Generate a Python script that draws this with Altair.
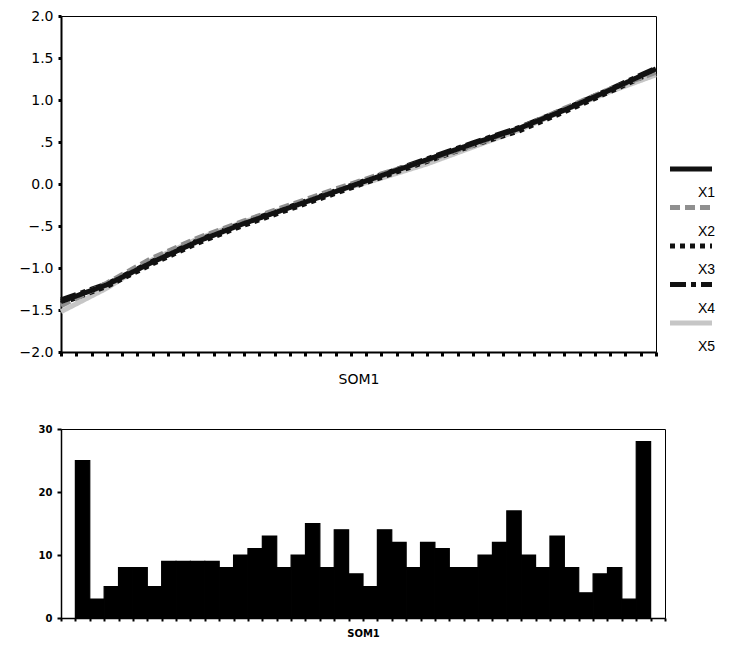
import altair as alt
import pandas as pd

FONT = "Liberation Sans"
WIDE = "DejaVu Sans"

# ---- top panel: five standardised variables along SOM1 ----
som1 = [0, 3, 6, 9, 12, 15, 18, 21, 24, 27, 30, 33, 36, 39]
x1 = [-1.40, -1.20, -0.93, -0.68, -0.47, -0.28, -0.09, 0.10, 0.29, 0.48, 0.66, 0.88, 1.12, 1.37]
x2 = [-1.45, -1.18, -0.88, -0.64, -0.44, -0.25, -0.06, 0.12, 0.28, 0.46, 0.66, 0.90, 1.13, 1.33]
x3 = [-1.42, -1.22, -0.95, -0.70, -0.49, -0.30, -0.11, 0.08, 0.27, 0.46, 0.63, 0.86, 1.10, 1.35]
x4 = [-1.38, -1.19, -0.92, -0.67, -0.46, -0.27, -0.08, 0.11, 0.30, 0.49, 0.67, 0.89, 1.13, 1.38]
x5 = [-1.52, -1.24, -0.90, -0.65, -0.45, -0.27, -0.09, 0.07, 0.24, 0.44, 0.64, 0.88, 1.10, 1.30]
series_names = ["X1", "X2", "X3", "X4", "X5"]
y_ticks = [-2.0, -1.5, -1.0, -0.5, 0.0, 0.5, 1.0, 1.5, 2.0]

# ---- bottom panel: counts per SOM1 unit ----
counts = [25, 3, 5, 8, 8, 5, 9, 9, 9, 9, 8, 10, 11, 13, 8, 10, 15, 8, 14, 7,
          5, 14, 12, 8, 12, 11, 8, 8, 10, 12, 17, 10, 8, 13, 8, 4, 7, 8, 3, 28]
count_ticks = [0, 10, 20, 30]

rows = []
for name, vals in reversed(list(zip(series_names, [x1, x2, x3, x4, x5]))):
    for s, v in zip(som1, vals):
        rows.append({"SOM1": s, "value": v, "series": name})
lines_df = pd.DataFrame(rows)

colors = ["#111111", "#8f8f8f", "#111111", "#111111", "#c6c6c6"]
dashes = [[1, 0], [10, 5], [5, 5], [16, 5, 5, 5], [1, 0]]
color_scale = alt.Scale(domain=series_names, range=colors)
dash_scale = alt.Scale(domain=series_names, range=dashes)

label_expr = ("datum.value == 0 ? '0.0' : replace(format(datum.value, '.1f'), '0.', '.')")

top = alt.Chart(lines_df).mark_line(strokeWidth=5, strokeCap="butt").encode(
    x=alt.X("SOM1:Q",
            scale=alt.Scale(domain=[0, 39], nice=False, zero=False),
            axis=alt.Axis(title="SOM1", values=list(range(40)), labels=False,
                          tickSize=4, tickWidth=3, domainWidth=2, grid=False,
                          titleFont=WIDE, titleFontSize=14, titleFontWeight="normal",
                          titlePadding=15)),
    y=alt.Y("value:Q",
            scale=alt.Scale(domain=[-2, 2], nice=False, zero=False),
            axis=alt.Axis(title=None, values=y_ticks, labelExpr=label_expr,
                          labelFont=WIDE, labelFontSize=14, tickSize=3, tickWidth=3,
                          domainWidth=2, labelPadding=5, grid=False,
                          minExtent=52, maxExtent=52)),
    color=alt.Color("series:N", scale=color_scale, legend=None),
    strokeDash=alt.StrokeDash("series:N", scale=dash_scale, legend=None),
).properties(width=595, height=336)

legend_df = pd.DataFrame({"series": series_names})
leg_y = alt.Y("series:N", scale=alt.Scale(type="point", domain=series_names,
                                          range=[153, 307], padding=0), axis=None)
legend_rules = alt.Chart(legend_df).mark_rule(strokeWidth=5, strokeCap="butt").encode(
    x=alt.value(3), x2=alt.value(45), y=leg_y,
    color=alt.Color("series:N", scale=color_scale, legend=None),
    strokeDash=alt.StrokeDash("series:N", scale=dash_scale, legend=None),
)
legend_text = alt.Chart(legend_df).mark_text(
    align="right", baseline="middle", dy=24, font=FONT, fontSize=14, color="black"
).encode(x=alt.value(48), y=leg_y, text="series:N")
legend = alt.layer(legend_rules, legend_text).properties(
    width=55, height=336, view=alt.ViewBackground(strokeOpacity=0))

bars_df = pd.DataFrame({
    "start": list(range(1, len(counts) + 1)),
    "end": list(range(2, len(counts) + 2)),
    "count": counts,
})
bottom = alt.Chart(bars_df).mark_bar(color="black", stroke="black", strokeWidth=1.2).encode(
    x=alt.X("start:Q",
            scale=alt.Scale(domain=[0, 42], nice=False, zero=False),
            axis=alt.Axis(title="SOM1", values=list(range(43)), labels=False,
                          tickSize=3, tickWidth=2, domainWidth=1.5, grid=False,
                          titleFont=WIDE, titleFontSize=10, titleFontWeight="bold",
                          titlePadding=6)),
    x2="end:Q",
    y=alt.Y("count:Q",
            scale=alt.Scale(domain=[0, 30], nice=False, zero=True),
            axis=alt.Axis(title=None, values=count_ticks, labelFont=WIDE,
                          labelFontSize=10, labelFontWeight="bold", tickSize=4,
                          tickWidth=2, domainWidth=1.5, labelPadding=5, grid=False,
                          minExtent=52, maxExtent=52)),
    y2=alt.datum(0),
).properties(width=604, height=189)

chart = alt.vconcat(
    alt.hconcat(top, legend, spacing=0),
    bottom,
    spacing=36,
).properties(
    padding={"left": 0, "top": 0, "right": 0, "bottom": 0}
).configure_view(
    stroke="black", strokeWidth=1
).configure_axis(
    labelFont=FONT, titleFont=FONT, labelColor="black", titleColor="black",
    domainColor="black", tickColor="black"
)

chart.save("out.html", embed_options={"renderer": "svg", "actions": False})
